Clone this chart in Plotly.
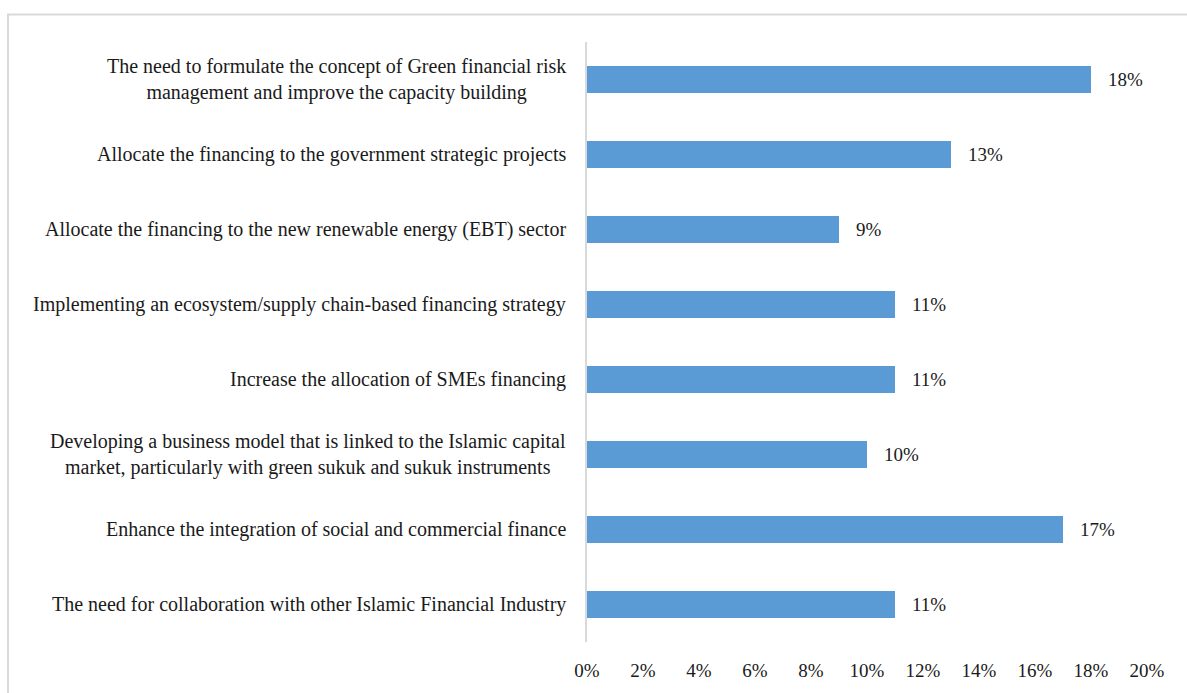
import plotly.graph_objects as go

# Survey items (top to bottom) and their shares in percent
categories = [
    "The need to formulate the concept of Green financial risk<br>management and improve the capacity building",
    "Allocate the financing to the government strategic projects",
    "Allocate the financing to the new renewable energy (EBT) sector",
    "Implementing an ecosystem/supply chain-based financing strategy",
    "Increase the allocation of SMEs financing",
    "Developing a business model that is linked to the Islamic capital<br>market, particularly with green sukuk and sukuk instruments",
    "Enhance the integration of social and commercial finance",
    "The need for collaboration with other Islamic Financial Industry",
]
values = [18, 13, 9, 11, 11, 10, 17, 11]
x_ticks = [0, 2, 4, 6, 8, 10, 12, 14, 16, 18, 20]
x_tick_labels = [f"{t}%" for t in x_ticks]

FONT = "Liberation Serif"
BAR_COLOR = "#5b9bd5"
TEXT_COLOR = "#1a1a1a"

# Plotly draws horizontal categories bottom-up, so reverse for top-down order
cats_plot = categories[::-1]
vals_plot = values[::-1]

fig = go.Figure(
    go.Bar(
        x=vals_plot,
        y=cats_plot,
        orientation="h",
        marker=dict(color=BAR_COLOR, line=dict(width=0)),
        width=0.36,
        hoverinfo="skip",
    )
)

# Value labels to the right of each bar
for c, v in zip(cats_plot, vals_plot):
    fig.add_annotation(
        x=v, y=c, xref="x", yref="y",
        text=f"{v}%", showarrow=False,
        xanchor="left", xshift=15,
        font=dict(family=FONT, size=19, color=TEXT_COLOR),
    )

# Category labels, centred per line like the original
for c in cats_plot:
    fig.add_annotation(
        x=0, y=c, xref="paper", yref="y",
        text=c, showarrow=False,
        xanchor="right", xshift=-19, align="center",
        font=dict(family=FONT, size=20, color=TEXT_COLOR),
    )

W, H = 1187, 693
ML, MR, MT, MB = 587, 40, 42, 51
pw = W - ML - MR
ph = H - MT - MB

# Light grey frame around the chart area
fig.add_shape(
    type="rect", xref="paper", yref="paper",
    x0=(8 - ML) / pw, x1=(W + 5 - ML) / pw,
    y0=-(H + 5 - (H - MB)) / ph, y1=1 + (MT - 14.5) / ph,
    line=dict(color="#d9d9d9", width=2), fillcolor="rgba(0,0,0,0)",
    layer="below",
)

fig.update_layout(
    width=W, height=H,
    margin=dict(l=ML, r=MR, t=MT, b=MB),
    plot_bgcolor="white", paper_bgcolor="white",
    showlegend=False,
    font=dict(family=FONT, size=19, color=TEXT_COLOR),
    xaxis=dict(
        range=[0, 20], tickvals=x_ticks, ticktext=x_tick_labels,
        showgrid=False, zeroline=False, showline=False, ticks="",
        tickfont=dict(family=FONT, size=19, color=TEXT_COLOR),
        ticklabelstandoff=15,
    ),
    yaxis=dict(
        showticklabels=False, showgrid=False, zeroline=False,
        showline=True, linecolor="#d9d9d9", linewidth=2,
        ticks="", range=[-0.5, len(categories) - 0.5],
    ),
)

fig.write_html("out.html")
